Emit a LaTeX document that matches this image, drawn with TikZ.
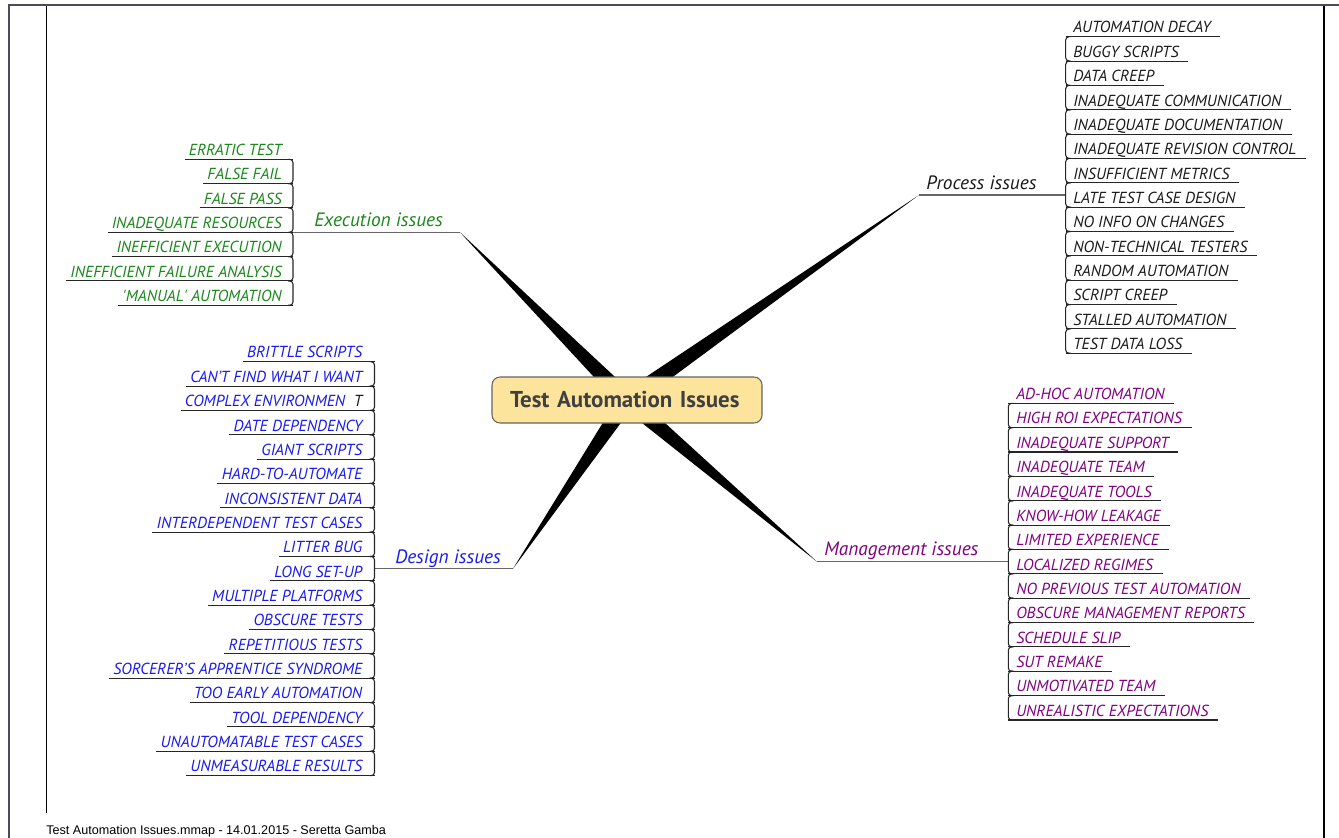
\documentclass[tikz,border=0pt]{standalone}
\usepackage{fontspec}
\setmainfont{PT Sans}
\newfontfamily\footfont{Liberation Sans}
\usetikzlibrary{positioning,calc}

\definecolor{framegray}{RGB}{75,75,90}
\definecolor{execgreen}{RGB}{25,135,25}
\definecolor{designblue}{RGB}{25,25,235}
\definecolor{mgmtpurple}{RGB}{128,0,128}
\definecolor{procblack}{RGB}{25,25,25}
\definecolor{rootfill}{RGB}{253,228,157}
\definecolor{rootline}{RGB}{100,100,100}
\definecolor{titlegray}{RGB}{64,64,64}

\tikzset{
  leaf/.style={font=\fontsize{12}{14}\selectfont\itshape, inner xsep=3pt, inner ysep=2.6pt, text depth=0pt},
  twig/.style={draw=black!85, line width=0.8pt, rounded corners=2.5pt},
  branch/.style={draw=black!60, line width=1.1pt},
  branchlabel/.style={font=\fontsize{14.5}{17}\selectfont\itshape, inner sep=0pt, anchor=base west},
  wedge/.style={fill=black},
  rootbox/.style={draw=rootline, fill=rootfill, line width=0.8pt, rounded corners=6pt,
    inner xsep=13.5pt, text width=175.5pt, align=left, minimum height=34.5pt, text=titlegray,
    font=\fontsize{17.2}{20}\selectfont\bfseries},
  footer/.style={font=\footfont\fontsize{9.45}{11}\selectfont, inner sep=0pt, anchor=base west}
}

\begin{document}
\begin{tikzpicture}[x=0.75pt,y=0.75pt,yscale=-1]
\useasboundingbox (0,0) rectangle (1339,838);

% Page frame
\draw [framegray, line width=2.2pt] (9,838) -- (9,5) -- (1339,5);
\draw [line width=0.75pt] (46,6) -- (46,813);
\draw [line width=1.1pt] (1324,6) -- (1324,838);

% Footer
\node [footer] (foot) at (46,834) {Test Automation Issues.mmap - 14.01.2015 - Seretta Gamba};

% Branch ends
\coordinate (mid) at (627,400);
\coordinate (etip) at (460,232.3);
\coordinate (ptip) at (919,195);
\coordinate (dtip) at (513,568.7);
\coordinate (mtip) at (817,561.7);
\coordinate (ehub) at (293,232.3);
\coordinate (phub) at (1065.7,195);
\coordinate (dhub) at (374.5,568.7);
\coordinate (mhub) at (1008.3,561.7);

% Tapered main branches
\foreach \tip in {etip,ptip,dtip,mtip}
  \fill [wedge] (\tip) -- ($(mid)!6.5pt!90:(\tip)$) -- ($(mid)!6.5pt!-90:(\tip)$) -- cycle;

% Central topic
\node [rootbox] (root) at (mid) {Test Automation Issues};

% Branch lines and labels
\draw [branch] (ehub) -- (etip);
\draw [branch] (phub) -- (ptip);
\draw [branch] (dhub) -- (dtip);
\draw [branch] (mhub) -- (mtip);
\node [branchlabel, execgreen] (exec) at (314,227) {Execution issues};
\node [branchlabel, procblack] (proc) at (926,190) {Process issues};
\node [branchlabel, designblue] (design) at (395,563.3) {Design issues};
\node [branchlabel, mgmtpurple] (mgmt) at (824,555) {Management issues};

% Execution issues
\foreach \t [count=\i] in {ERRATIC TEST, FALSE FAIL, FALSE PASS, INADEQUATE RESOURCES,
    INEFFICIENT EXECUTION, INEFFICIENT FAILURE ANALYSIS, \textquotesingle MANUAL\textquotesingle{} AUTOMATION}
  \node [leaf, execgreen, anchor=south east] (e\i) at (286,{159.3+24.33*(\i-1)}) {\t};
\foreach \i in {1,...,7}
  \draw [twig] (e\i.south west) -- (e\i.south -| ehub);
\foreach \i [evaluate=\i as \j using int(\i+1)] in {1,...,6}
  \draw [twig] (e\i.south -| ehub) ++(-5,0) -- (e\i.south -| ehub) -- (e\j.south -| ehub) -- ++(-5,0);

% Design issues
\foreach \t [count=\i] in {BRITTLE SCRIPTS, CAN'T FIND WHAT I WANT, COMPLEX ENVIRONMEN\ \ \textcolor{procblack}{T},
    DATE DEPENDENCY, GIANT SCRIPTS, HARD-TO-AUTOMATE, INCONSISTENT DATA, INTERDEPENDENT TEST CASES,
    LITTER BUG, LONG SET-UP, MULTIPLE PLATFORMS, OBSCURE TESTS, REPETITIOUS TESTS,
    SORCERER'S APPRENTICE SYNDROME, TOO EARLY AUTOMATION, TOOL DEPENDENCY,
    UNAUTOMATABLE TEST CASES, UNMEASURABLE RESULTS}
  \node [leaf, designblue, anchor=south east] (d\i) at (366.5,{361.7+24.35*(\i-1)}) {\t};
\foreach \i in {1,...,18}
  \draw [twig] (d\i.south west) -- (d\i.south -| dhub);
\foreach \i [evaluate=\i as \j using int(\i+1)] in {1,...,17}
  \draw [twig] (d\i.south -| dhub) ++(-5,0) -- (d\i.south -| dhub) -- (d\j.south -| dhub) -- ++(-5,0);

% Process issues
\foreach \t [count=\i] in {AUTOMATION DECAY, BUGGY SCRIPTS, DATA CREEP, INADEQUATE COMMUNICATION,
    INADEQUATE DOCUMENTATION, INADEQUATE REVISION CONTROL, INSUFFICIENT METRICS,
    LATE TEST CASE DESIGN, NO INFO ON CHANGES, NON-TECHNICAL TESTERS, RANDOM AUTOMATION,
    SCRIPT CREEP, STALLED AUTOMATION, TEST DATA LOSS}
  \node [leaf, procblack, anchor=south west] (p\i) at (1069,{36.7+24.35*(\i-1)}) {\t};
\foreach \i in {1,...,14}
  \draw [twig] (p\i.south -| phub) -- ([xshift=4pt]p\i.south east);
\foreach \i [evaluate=\i as \j using int(\i+1)] in {1,...,13}
  \draw [twig] (p\i.south -| phub) ++(5,0) -- (p\i.south -| phub) -- (p\j.south -| phub) -- ++(5,0);

% Management issues
\foreach \t [count=\i] in {AD-HOC AUTOMATION, HIGH ROI EXPECTATIONS, INADEQUATE SUPPORT, INADEQUATE TEAM,
    INADEQUATE TOOLS, KNOW-HOW LEAKAGE, LIMITED EXPERIENCE, LOCALIZED REGIMES,
    NO PREVIOUS TEST AUTOMATION, OBSCURE MANAGEMENT REPORTS, SCHEDULE SLIP, SUT REMAKE,
    UNMOTIVATED TEAM, UNREALISTIC EXPECTATIONS}
  \node [leaf, mgmtpurple, anchor=south west] (m\i) at (1012,{403.3+24.36*(\i-1)}) {\t};
\foreach \i in {1,...,14}
  \draw [twig] (m\i.south -| mhub) -- ([xshift=4pt]m\i.south east);
\foreach \i [evaluate=\i as \j using int(\i+1)] in {1,...,13}
  \draw [twig] (m\i.south -| mhub) ++(5,0) -- (m\i.south -| mhub) -- (m\j.south -| mhub) -- ++(5,0);

\end{tikzpicture}
\end{document}
